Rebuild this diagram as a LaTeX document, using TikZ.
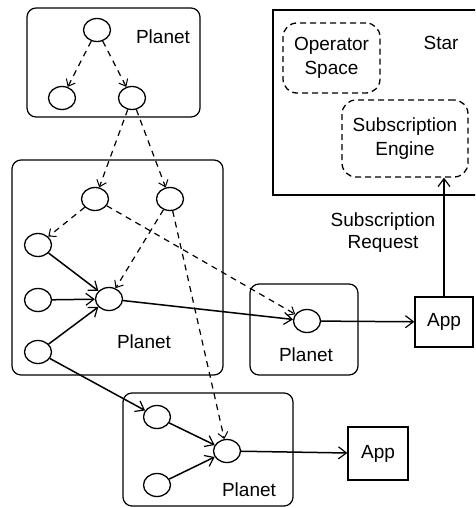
\documentclass[tikz,border=0pt]{standalone}
\usepackage{fontspec}
\setmainfont{Liberation Sans}
\usetikzlibrary{shapes.geometric,arrows.meta}
\begin{document}
\begin{tikzpicture}[x=1pt,y=-1pt,
  nd/.style={ellipse, draw, line width=1.3pt, minimum width=27pt, minimum height=23pt, inner sep=0pt},
  planet/.style={draw, line width=1.2pt, rounded corners=9pt, inner sep=0pt},
  sol/.style={line width=1.5pt, -{Straight Barb[length=8pt,width=12pt,line width=1.2pt]}},
  dsh/.style={line width=1.2pt, dash pattern=on 6pt off 5pt, -{Straight Barb[length=6pt,width=10pt,line width=1pt]}},
  lbl/.style={font=\fontsize{19}{24}\selectfont, align=center, inner sep=0pt},
  appbox/.style={draw, line width=1.2pt, font=\fontsize{19}{24}\selectfont, inner sep=0pt},
  dbox/.style={draw, line width=1.3pt, dash pattern=on 6pt off 4pt, rounded corners=14pt, align=center, font=\fontsize{19}{24}\selectfont, inner sep=0pt}
]
\useasboundingbox (0,0) rectangle (475,508);

% planet boxes
\node[planet, minimum width=173pt, minimum height=109pt] (P1) at (113.5,62.5) {};
\node[planet, minimum width=211pt, minimum height=215pt] (P2) at (117.5,267.5) {};
\node[planet, minimum width=108pt, minimum height=91pt] (P3) at (304,329.5) {};
\node[planet, minimum width=170pt, minimum height=113pt] (P4) at (208,449.5) {};

% star (its right side runs past the picture's edge)
\begin{scope}
\clip (0,0) rectangle (475,508);
\node[draw, line width=2pt, minimum width=240pt, minimum height=185pt, inner sep=0pt] (S) at (393,102.5) {};
\end{scope}
\node[dbox, minimum width=97pt, minimum height=70pt] (OS) at (331.5,58) {Operator\\Space};
\node[dbox, minimum width=126pt, minimum height=77pt] (SE) at (405,138.5) {Subscription\\Engine};
\node[lbl] (Lstar) at (441,43) {Star};

% labels
\node[lbl] (L1) at (163,37) {Planet};
\node[lbl] (L2) at (144,342) {Planet};
\node[lbl] (L3) at (306,355) {Planet};
\node[lbl] (L4) at (249,490) {Planet};
\node[lbl, font=\fontsize{19}{22}\selectfont] (LR) at (383,233) {Subscription\\Request};

% apps
\node[appbox, minimum width=58pt, minimum height=50pt] (A1) at (444,322) {App};
\node[appbox, minimum width=60pt, minimum height=53pt] (A2) at (378,453.5) {App};

% nodes
\node[nd] (t0) at (97,30) {};
\node[nd] (t1) at (62,98) {};
\node[nd] (t2) at (132,98) {};
\node[nd] (m1) at (95,199) {};
\node[nd] (m2) at (170,199) {};
\node[nd] (l1) at (38,245) {};
\node[nd] (l2) at (38,300) {};
\node[nd] (l3) at (38,352) {};
\node[nd] (mc) at (109,299) {};
\node[nd] (r1) at (307,321) {};
\node[nd] (b1) at (157,417) {};
\node[nd] (b2) at (157,485) {};
\node[nd] (bc) at (227,451) {};

% dashed edges
\draw[dsh] (t0) -- (t1);
\draw[dsh] (t0) -- (t2);
\draw[dsh] (t2) -- (m1);
\draw[dsh] (t2) -- (m2);
\draw[dsh] (m1) -- (l1);
\draw[dsh] (m2) -- (mc);
\draw[dsh] (m1) -- (r1);
\draw[dsh] (m2) -- (bc);

% solid edges
\draw[sol] (l1) -- (mc);
\draw[sol] (l2) -- (mc);
\draw[sol] (l3) -- (mc);
\draw[sol] (mc) -- (r1);
\draw[sol] (r1) -- (A1);
\draw[sol] (l3) -- (b1);
\draw[sol] (b1) -- (bc);
\draw[sol] (b2) -- (bc);
\draw[sol] (bc) -- (A2);
\draw[sol] (A1.north) -- (A1.north |- SE.south);
\end{tikzpicture}
\end{document}
